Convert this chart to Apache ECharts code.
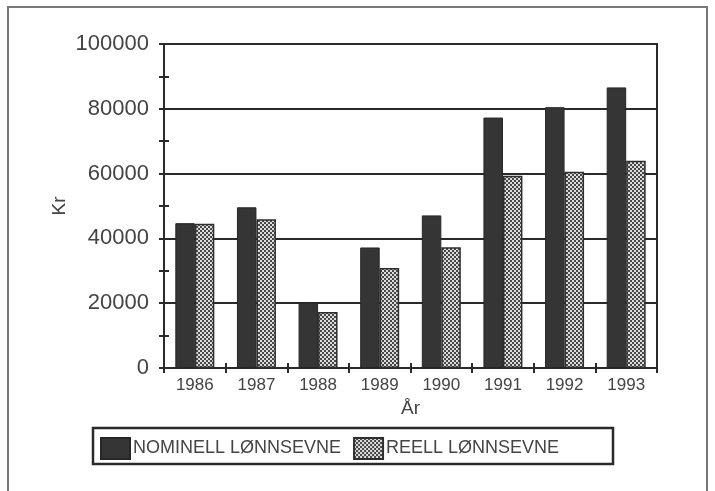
<!DOCTYPE html>
<html>
<head>
<meta charset="utf-8">
<script src="https://cdn.jsdelivr.net/npm/echarts@6/dist/echarts.min.js"></script>
<style>
  html, body { margin: 0; padding: 0; background: #fff; }
  #chart { width: 715px; height: 491px; }
</style>
</head>
<body>
<div id="chart"></div>
<script>
// Lønnsevne per år (kroner)
const years = ['1986', '1987', '1988', '1989', '1990', '1991', '1992', '1993'];
const nominell = [44700, 49600, 20200, 37200, 47100, 77300, 80500, 86600];
const reell = [44500, 45900, 17300, 30900, 37300, 59300, 60600, 64000];
const yTicks = [0, 20000, 40000, 60000, 80000, 100000];

const seriesNames = ['NOMINELL LØNNSEVNE', 'REELL LØNNSEVNE'];

// Fine checker fill used for the "reell" bars
function checkerPattern() {
  const c = document.createElement('canvas');
  c.width = 4; c.height = 4;
  const g = c.getContext('2d');
  g.fillStyle = '#474747';
  g.fillRect(0, 0, 4, 4);
  g.fillStyle = '#dcdcdc';
  g.fillRect(0, 0, 2, 2);
  g.fillRect(2, 2, 2, 2);
  return c;
}
const pattern = { image: checkerPattern(), repeat: 'repeat' };

const chart = echarts.init(document.getElementById('chart'), null, { renderer: 'canvas' });
const font = 'Liberation Sans, Arial, sans-serif';
const ink = '#2a2a2a';
const textInk = '#444';

const yMax = yTicks[yTicks.length - 1];
const yStep = yTicks[1] - yTicks[0];

chart.setOption({
  backgroundColor: '#ffffff',
  animation: false,
  grid: {
    left: 164, right: 58, top: 44, bottom: 123,
    show: true, borderColor: ink, borderWidth: 2, backgroundColor: 'transparent'
  },
  legend: {
    data: seriesNames,
    left: 100, top: 437, padding: 0,
    itemWidth: 29, itemHeight: 21, itemGap: 12,
    icon: 'rect',
    textStyle: { fontFamily: font, fontSize: 18, color: textInk, padding: [0, 0, 0, -2] }
  },
  xAxis: [
    {
      type: 'category', data: years,
      name: 'År', nameLocation: 'middle', nameGap: 26,
      nameTextStyle: { fontFamily: font, fontSize: 19, color: textInk },
      axisLine: { lineStyle: { color: ink, width: 2 } },
      axisTick: { show: true, length: 5, lineStyle: { color: ink, width: 2 } },
      axisLabel: { fontFamily: font, fontSize: 17, color: textInk, margin: 9 },
      splitLine: { show: false }
    },
    {
      type: 'category', data: years, position: 'bottom', offset: 0,
      axisLine: { show: false },
      axisTick: { show: true, inside: true, length: 5, lineStyle: { color: ink, width: 2 } },
      axisLabel: { show: false },
      splitLine: { show: false }
    }
  ],
  yAxis: [
    {
      type: 'value', min: 0, max: yMax, interval: yStep,
      name: 'Kr', nameLocation: 'middle', nameGap: 95, nameRotate: 90,
      nameMoveOverlap: false,
      nameTextStyle: { fontFamily: font, fontSize: 19, color: textInk },
      axisLine: { show: true, lineStyle: { color: ink, width: 2 } },
      axisTick: { show: true, length: 5, lineStyle: { color: ink, width: 2 } },
      minorTick: { show: true, splitNumber: 2, length: 5, lineStyle: { color: ink, width: 2 } },
      axisLabel: {
        fontFamily: font, fontSize: 22, color: textInk, margin: 15,
        formatter: v => String(v)
      },
      splitLine: { show: true, lineStyle: { color: ink, width: 2 } }
    },
    {
      type: 'value', min: 0, max: yMax, interval: yStep, position: 'left', offset: 0,
      axisLine: { show: false },
      axisTick: { show: true, inside: true, length: 5, lineStyle: { color: ink, width: 2 } },
      minorTick: { show: true, splitNumber: 2, length: 5, lineStyle: { color: ink, width: 2 } },
      axisLabel: { show: false },
      splitLine: { show: false }
    }
  ],
  series: [
    {
      name: seriesNames[0], type: 'bar', data: nominell,
      barWidth: 19.5, barGap: '0%',
      itemStyle: { color: '#353535', borderColor: '#262626', borderWidth: 1 }
    },
    {
      name: seriesNames[1], type: 'bar', data: reell,
      barWidth: 19.5, barGap: '0%',
      itemStyle: { color: pattern, borderColor: '#2e2e2e', borderWidth: 1.5 }
    }
  ],
  graphic: [
    {
      type: 'rect', silent: true, z: -1,
      shape: { x: 8, y: 7, width: 699, height: 500 },
      style: { fill: 'none', stroke: '#777', lineWidth: 2 }
    },
    {
      type: 'rect', silent: true,
      shape: { x: 93, y: 428, width: 520, height: 36 },
      style: { fill: 'none', stroke: ink, lineWidth: 2.5 }
    }
  ]
});
</script>
</body>
</html>
